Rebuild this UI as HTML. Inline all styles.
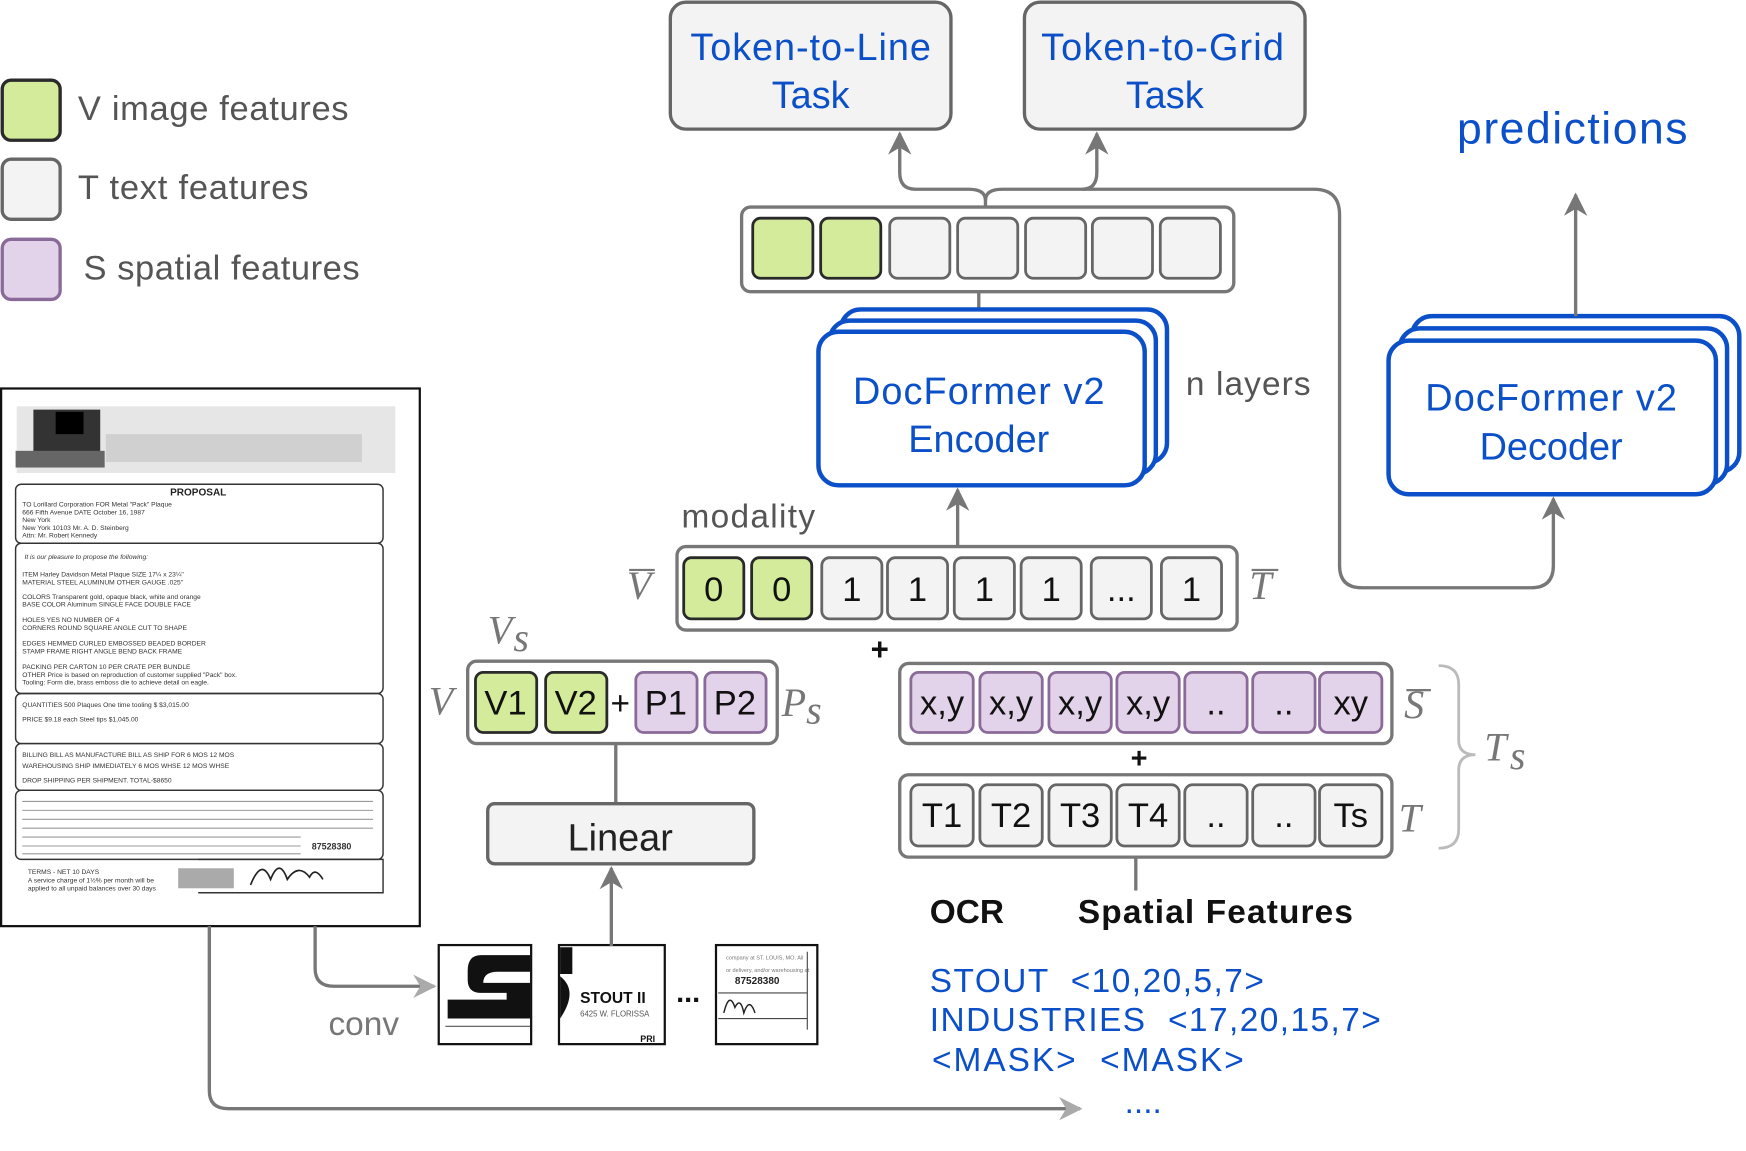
<!DOCTYPE html>
<html><head><meta charset="utf-8"><style>
html,body{margin:0;padding:0;background:#fff;}
svg{display:block;}
text{font-family:"Liberation Sans",sans-serif;}
.b{fill:#0b50c8;}
.g{fill:#555;}
.cellg{fill:#d3eb9a;stroke:#2a2a2a;stroke-width:2.5;}
.cellw{fill:#f3f3f3;stroke:#666;stroke-width:2.5;}
.cellp{fill:#e3d3ea;stroke:#8a6a98;stroke-width:2.5;}
.bar{fill:#fff;stroke:#777;stroke-width:3;}
.ct{font-size:31px;fill:#111;text-anchor:middle;}
.ser{font-family:"Liberation Serif",serif;font-style:italic;fill:#777;font-size:36px;}
.arr{fill:none;stroke:#777;stroke-width:3;}
.blue{fill:#fff;stroke:#0b50c8;stroke-width:4;}
</style></head><body>
<svg width="1746" height="1151" viewBox="0 0 1568 1034" preserveAspectRatio="none" xmlns="http://www.w3.org/2000/svg">
<defs>
<marker id="ah" viewBox="0 0 10 10" refX="9" refY="5" markerWidth="7" markerHeight="7" orient="auto"><path d="M0,0 L10,5 L0,10 L3,5 z" fill="#777"/></marker>
<marker id="ah2" viewBox="0 0 10 10" refX="9" refY="5" markerWidth="7" markerHeight="7" orient="auto"><path d="M0,0 L10,5 L0,10 L3,5 z" fill="#aaa"/></marker>
</defs>

<!-- legend -->
<rect x="2" y="72" width="52" height="54" rx="8" fill="#d3eb9a" stroke="#2a2a2a" stroke-width="3"/>
<text x="70" y="108" font-size="31" class="g" textLength="243">V image features</text>
<rect x="2" y="143" width="52" height="54" rx="8" fill="#f3f3f3" stroke="#666" stroke-width="3"/>
<text x="70" y="179" font-size="31" class="g" textLength="207">T text features</text>
<rect x="2" y="215" width="52" height="54" rx="8" fill="#e3d3ea" stroke="#8a6a98" stroke-width="3"/>
<text x="75" y="251" font-size="31" class="g" textLength="248">S spatial features</text>

<!-- document -->
<rect x="1" y="349" width="376" height="483" fill="#fff" stroke="#111" stroke-width="2"/>
<rect x="15" y="365" width="340" height="60" fill="#e6e6e6"/>
<rect x="30" y="368" width="60" height="50" fill="#333"/>
<rect x="50" y="370" width="25" height="20" fill="#000"/>
<rect x="14" y="405" width="80" height="15" fill="#666"/>
<rect x="95" y="390" width="230" height="25" fill="#d0d0d0"/>
<g fill="none" stroke="#333" stroke-width="1.3">
<rect x="14" y="435" width="330" height="53" rx="5"/>
<rect x="14" y="488" width="330" height="135" rx="5"/>
<rect x="14" y="623" width="330" height="45" rx="5"/>
<rect x="14" y="668" width="330" height="42" rx="5"/>
<rect x="14" y="710" width="330" height="62" rx="5"/>
<path d="M178,772 L344,772 L344,802 L178,802"/>
</g>
<text x="178" y="445" font-size="9" font-weight="bold" text-anchor="middle" fill="#222">PROPOSAL</text>
<g font-size="6" fill="#333" font-family="Liberation Mono">
<text x="20" y="455">TO   Lorillard Corporation      FOR  Metal "Pack" Plaque</text>
<text x="20" y="462">     666 Fifth Avenue           DATE October 16, 1987</text>
<text x="20" y="469">     New York</text>
<text x="20" y="476">     New York  10103                 Mr. A. D. Steinberg</text>
<text x="20" y="483">       Attn: Mr. Robert Kennedy</text>
<text x="22" y="502" font-style="italic">It is our pleasure to propose the following:</text>
<text x="20" y="518">ITEM Harley Davidson Metal Plaque   SIZE 17¼ x 23¼"</text>
<text x="20" y="525">MATERIAL STEEL  ALUMINUM   OTHER     GAUGE .025"</text>
<text x="20" y="538">COLORS Transparent gold, opaque black, white and orange</text>
<text x="20" y="545">BASE COLOR Aluminum  SINGLE FACE   DOUBLE FACE</text>
<text x="20" y="559">HOLES YES  NO   NUMBER OF 4</text>
<text x="20" y="566">CORNERS ROUND SQUARE  ANGLE  CUT TO SHAPE</text>
<text x="20" y="580">EDGES HEMMED CURLED EMBOSSED BEADED BORDER</text>
<text x="20" y="587">STAMP FRAME  RIGHT ANGLE BEND  BACK FRAME</text>
<text x="20" y="601">PACKING PER CARTON 10 PER CRATE   PER BUNDLE</text>
<text x="20" y="608">OTHER Price is based on reproduction of customer supplied "Pack" box.</text>
<text x="20" y="615">      Tooling: Form die, brass emboss die to achieve detail on eagle.</text>
<text x="20" y="635">QUANTITIES 500 Plaques   One time tooling $ $3,015.00</text>
<text x="20" y="648">PRICE  $9.18 each        Steel tips   $1,045.00</text>
<text x="20" y="680">BILLING  BILL AS MANUFACTURE  BILL AS SHIP FOR 6 MOS 12 MOS</text>
<text x="20" y="690">WAREHOUSING SHIP IMMEDIATELY  6 MOS WHSE 12 MOS WHSE</text>
<text x="20" y="703">DROP SHIPPING       PER SHIPMENT.     TOTAL-$8650</text>
<text x="280" y="763" font-weight="bold" font-size="8">87528380</text>
<text x="25" y="785">TERMS - NET 10 DAYS</text>
<text x="25" y="793">A service charge of 1½% per month will be</text>
<text x="25" y="800">applied to all unpaid balances over 30 days</text>
</g>
<g stroke="#999" stroke-width="1">
<line x1="20" y1="720" x2="335" y2="720"/><line x1="20" y1="728" x2="335" y2="728"/><line x1="20" y1="736" x2="335" y2="736"/><line x1="20" y1="744" x2="335" y2="744"/><line x1="20" y1="752" x2="270" y2="752"/><line x1="20" y1="760" x2="270" y2="760"/><line x1="20" y1="767" x2="270" y2="767"/>
</g>
<rect x="160" y="780" width="50" height="18" fill="#aaa"/>
<path d="M225,795 q10,-25 18,-5 q8,-20 15,0 q10,-15 20,-2 q5,-10 12,2" fill="none" stroke="#222" stroke-width="1.5"/>

<!-- arrows from doc -->
<path d="M283,832 L283,870 Q283,886 300,886 L390,886" class="arr" stroke="#aaa" marker-end="url(#ah2)"/>
<path d="M188,832 L188,980 Q188,996 205,996 L970,996" class="arr" stroke="#aaa" marker-end="url(#ah2)"/>
<text x="295" y="930" font-size="30" fill="#777">conv</text>

<!-- patches -->
<rect x="394" y="849" width="83" height="89" fill="#fff" stroke="#111" stroke-width="2"/>
<path d="M432,858 L476,858 L476,873 L447,873 Q434,873 434,883 L476,883 L476,915 L402,915 L402,898 L455,898 L455,892 L432,892 Q420,892 420,880 L420,872 Q420,858 432,858 z" fill="#111"/>
<path d="M400,922 L476,922" stroke="#555" stroke-width="1"/>
<rect x="502" y="849" width="95" height="89" fill="#fff" stroke="#111" stroke-width="2"/>
<path d="M503,851 L514,851 L514,875 L503,875 z M503,877 Q520,890 503,915 z" fill="#111"/>
<text x="521" y="901" font-size="14" font-weight="bold" fill="#111">STOUT II</text>
<text x="521" y="913" font-size="7" fill="#555">6425 W. FLORISSA</text>
<text x="575" y="936" font-size="8" font-weight="bold" fill="#111">PRI</text>
<text x="618" y="900" font-size="26" font-weight="bold" fill="#111" text-anchor="middle">...</text>
<rect x="643" y="849" width="91" height="89" fill="#fff" stroke="#111" stroke-width="2"/>
<text x="652" y="862" font-size="5" fill="#777">company at ST. LOUIS, MO. All</text>
<text x="652" y="873" font-size="5" fill="#777">or delivery, and/or warehousing at</text>
<text x="660" y="884" font-size="9" font-weight="bold" fill="#222">87528380</text>
<path d="M645,892 L725,892 M645,915 L725,915 M725,855 L725,925" stroke="#444" stroke-width="1" fill="none"/>
<path d="M650,910 q5,-20 10,-5 q5,-10 8,5 q5,-15 10,0" fill="none" stroke="#222" stroke-width="1.3"/>

<!-- top task boxes -->
<rect x="602" y="2" width="252" height="114" rx="14" fill="#f3f3f3" stroke="#666" stroke-width="3"/>
<text x="728" y="54" font-size="34" class="b" text-anchor="middle" textLength="216">Token-to-Line</text>
<text x="728" y="97" font-size="34" class="b" text-anchor="middle">Task</text>
<rect x="920" y="2" width="252" height="114" rx="14" fill="#f3f3f3" stroke="#666" stroke-width="3"/>
<text x="1044" y="54" font-size="34" class="b" text-anchor="middle" textLength="218">Token-to-Grid</text>
<text x="1046" y="97" font-size="34" class="b" text-anchor="middle">Task</text>
<text x="1412" y="129" font-size="40" class="b" text-anchor="middle" textLength="207">predictions</text>

<!-- branching arrows -->
<path d="M885,186 L885,180 Q885,170 870,170 L822,170 Q808,170 808,155 L808,120" class="arr" marker-end="url(#ah)"/>
<path d="M885,180 Q885,170 900,170 L972,170 Q985,170 985,155 L985,120" class="arr" marker-end="url(#ah)"/>
<path d="M972,170 L1180,170 Q1203,170 1203,193 L1203,508 Q1203,528 1223,528 L1375,528 Q1395,528 1395,508 L1395,448" class="arr" marker-end="url(#ah)"/>

<!-- top feature bar -->
<rect x="666" y="186" width="442" height="76" rx="8" class="bar"/>
<rect x="676" y="196" width="54" height="54" rx="7" class="cellg"/>
<rect x="737" y="196" width="54" height="54" rx="7" class="cellg"/>
<rect x="799" y="196" width="54" height="54" rx="7" class="cellw"/>
<rect x="860" y="196" width="54" height="54" rx="7" class="cellw"/>
<rect x="921" y="196" width="54" height="54" rx="7" class="cellw"/>
<rect x="981" y="196" width="54" height="54" rx="7" class="cellw"/>
<rect x="1042" y="196" width="54" height="54" rx="7" class="cellw"/>
<line x1="879" y1="262" x2="879" y2="292" stroke="#777" stroke-width="3"/>

<!-- encoder -->
<rect x="755" y="278" width="293" height="138" rx="18" class="blue"/>
<rect x="745" y="288" width="293" height="138" rx="18" class="blue"/>
<rect x="735" y="298" width="293" height="138" rx="18" class="blue"/>
<text x="879" y="363" font-size="34" class="b" text-anchor="middle" textLength="226">DocFormer v2</text>
<text x="879" y="406" font-size="34" class="b" text-anchor="middle">Encoder</text>
<text x="1065" y="355" font-size="30" class="g" textLength="112">n layers</text>

<!-- decoder -->
<rect x="1268" y="284" width="294" height="140" rx="18" class="blue"/>
<rect x="1257" y="295" width="294" height="140" rx="18" class="blue"/>
<rect x="1247" y="306" width="294" height="138" rx="18" class="blue"/>
<text x="1393" y="369" font-size="34" class="b" text-anchor="middle" textLength="226">DocFormer v2</text>
<text x="1393" y="413" font-size="34" class="b" text-anchor="middle">Decoder</text>
<path d="M1415,284 L1415,175" class="arr" marker-end="url(#ah)"/>

<!-- modality -->
<path d="M860,490 L860,440" class="arr" marker-end="url(#ah)"/>
<text x="612" y="474" font-size="30" class="g" textLength="120">modality</text>
<rect x="608" y="491" width="503" height="75" rx="8" class="bar"/>
<rect x="614" y="501" width="54" height="55" rx="7" class="cellg"/><text x="641" y="540" class="ct">0</text>
<rect x="675" y="501" width="54" height="55" rx="7" class="cellg"/><text x="702" y="540" class="ct">0</text>
<rect x="738" y="501" width="54" height="55" rx="7" class="cellw"/><text x="765" y="540" class="ct">1</text>
<rect x="797" y="501" width="54" height="55" rx="7" class="cellw"/><text x="824" y="540" class="ct">1</text>
<rect x="857" y="501" width="54" height="55" rx="7" class="cellw"/><text x="884" y="540" class="ct">1</text>
<rect x="917" y="501" width="54" height="55" rx="7" class="cellw"/><text x="944" y="540" class="ct">1</text>
<rect x="980" y="501" width="54" height="55" rx="7" class="cellw"/><text x="1007" y="540" class="ct">...</text>
<rect x="1043" y="501" width="54" height="55" rx="7" class="cellw"/><text x="1070" y="540" class="ct">1</text>
<text x="563" y="538" class="ser">V</text><line x1="565" y1="512" x2="588" y2="512" stroke="#777" stroke-width="2"/>
<text x="1122" y="538" class="ser">T</text><line x1="1124" y1="512" x2="1148" y2="512" stroke="#777" stroke-width="2"/>
<text x="790" y="593" font-size="28" font-weight="bold" text-anchor="middle" fill="#111">+</text>

<!-- V bar -->
<rect x="420" y="594" width="278" height="74" rx="8" class="bar"/>
<rect x="427" y="604" width="55" height="54" rx="7" class="cellg"/><text x="454" y="642" class="ct">V1</text>
<rect x="490" y="604" width="55" height="54" rx="7" class="cellg"/><text x="517" y="642" class="ct">V2</text>
<text x="557" y="642" font-size="30" text-anchor="middle" fill="#111">+</text>
<rect x="571" y="604" width="55" height="54" rx="7" class="cellp"/><text x="598" y="642" class="ct">P1</text>
<rect x="633" y="604" width="55" height="54" rx="7" class="cellp"/><text x="660" y="642" class="ct">P2</text>
<text x="385" y="642" class="ser">V</text>
<text x="438" y="578" class="ser">V</text><text x="461" y="585" class="ser" font-size="22">s</text>
<text x="702" y="643" class="ser">P</text><text x="724" y="650" class="ser" font-size="22">s</text>

<!-- S bar -->
<rect x="808" y="596" width="442" height="72" rx="8" class="bar"/>
<rect x="818" y="604" width="56" height="54" rx="7" class="cellp"/><text x="846" y="642" class="ct">x,y</text>
<rect x="880" y="604" width="56" height="54" rx="7" class="cellp"/><text x="908" y="642" class="ct">x,y</text>
<rect x="942" y="604" width="56" height="54" rx="7" class="cellp"/><text x="970" y="642" class="ct">x,y</text>
<rect x="1003" y="604" width="56" height="54" rx="7" class="cellp"/><text x="1031" y="642" class="ct">x,y</text>
<rect x="1064" y="604" width="56" height="54" rx="7" class="cellp"/><text x="1092" y="642" class="ct">..</text>
<rect x="1125" y="604" width="56" height="54" rx="7" class="cellp"/><text x="1153" y="642" class="ct">..</text>
<rect x="1185" y="604" width="56" height="54" rx="7" class="cellp"/><text x="1213" y="642" class="ct">xy</text>
<text x="1261" y="645" class="ser">S</text><line x1="1263" y1="620" x2="1285" y2="620" stroke="#777" stroke-width="2"/>
<text x="1023" y="690" font-size="26" font-weight="bold" text-anchor="middle" fill="#111">+</text>

<!-- T bar -->
<rect x="808" y="696" width="442" height="74" rx="8" class="bar"/>
<rect x="818" y="705" width="56" height="55" rx="7" class="cellw"/><text x="846" y="743" class="ct">T1</text>
<rect x="880" y="705" width="56" height="55" rx="7" class="cellw"/><text x="908" y="743" class="ct">T2</text>
<rect x="942" y="705" width="56" height="55" rx="7" class="cellw"/><text x="970" y="743" class="ct">T3</text>
<rect x="1003" y="705" width="56" height="55" rx="7" class="cellw"/><text x="1031" y="743" class="ct">T4</text>
<rect x="1064" y="705" width="56" height="55" rx="7" class="cellw"/><text x="1092" y="743" class="ct">..</text>
<rect x="1125" y="705" width="56" height="55" rx="7" class="cellw"/><text x="1153" y="743" class="ct">..</text>
<rect x="1185" y="705" width="56" height="55" rx="7" class="cellw"/><text x="1213" y="743" class="ct">Ts</text>
<text x="1256" y="747" class="ser">T</text>
<path d="M1292,598 Q1310,598 1310,615 L1310,665 Q1310,678 1325,678 Q1310,678 1310,692 L1310,745 Q1310,762 1292,762" fill="none" stroke="#bbb" stroke-width="2.5"/>
<text x="1333" y="683" class="ser">T</text><text x="1356" y="691" class="ser" font-size="22">s</text>

<!-- Linear -->
<line x1="553" y1="668" x2="553" y2="722" stroke="#777" stroke-width="3"/>
<rect x="438" y="722" width="239" height="54" rx="6" fill="#f3f3f3" stroke="#666" stroke-width="3"/>
<text x="557" y="764" font-size="34" text-anchor="middle" fill="#222">Linear</text>
<path d="M549,850 L549,780" class="arr" marker-end="url(#ah)"/>

<!-- OCR -->
<line x1="1020" y1="770" x2="1020" y2="800" stroke="#777" stroke-width="3"/>
<text x="835" y="829" font-size="30" font-weight="bold" fill="#111">OCR</text>
<text x="968" y="829" font-size="30" font-weight="bold" fill="#111" textLength="247">Spatial Features</text>
<text x="835" y="891" font-size="30" class="b" xml:space="preserve" textLength="300">STOUT  &lt;10,20,5,7&gt;</text>
<text x="835" y="926" font-size="30" class="b" xml:space="preserve" textLength="405">INDUSTRIES  &lt;17,20,15,7&gt;</text>
<text x="837" y="962" font-size="30" class="b" xml:space="preserve" textLength="280">&lt;MASK&gt;  &lt;MASK&gt;</text>
<text x="1010" y="1000" font-size="30" class="b">....</text>
</svg>
</body></html>
